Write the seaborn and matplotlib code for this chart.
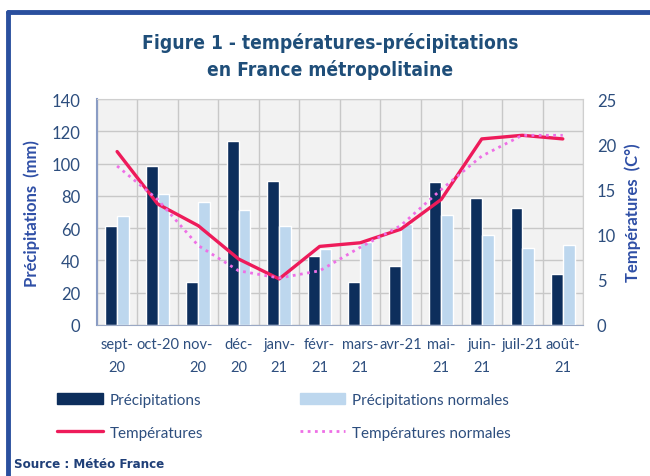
import numpy as np
import pandas as pd
import matplotlib
matplotlib.use("Agg")
import matplotlib.pyplot as plt
from matplotlib.patches import Patch
from matplotlib.lines import Line2D
import seaborn as sns

# données
mois = ["sept-\n20", "oct-20", "nov-\n20", "déc-\n20", "janv-\n21", "févr-\n21",
        "mars-\n21", "avr-21", "mai-\n21", "juin-\n21", "juil-21", "août-\n21"]
precip = [61.5, 98.5, 26.5, 114, 89.5, 42.5, 26.5, 36.5, 88.5, 79, 72.5, 31.5]
precip_norm = [67.5, 81, 76.5, 71.5, 61.5, 47, 51.5, 62.5, 68, 55.5, 47.5, 49.5]
temp = [19.2, 13.4, 11.0, 7.3, 5.1, 8.7, 9.1, 10.6, 13.9, 20.6, 21.0, 20.6]
temp_norm = [17.6, 13.9, 8.8, 6.0, 5.2, 6.0, 8.6, 11.0, 15.0, 18.7, 21.0, 21.0]

navy = "#0d2e5c"
light = "#bdd7ee"
red = "#ee1b5a"
pink = "#ee6fe6"
txt = "#2d4e7e"
lab = "#2f4fa6"

sns.set_style("white")
plt.rcParams["font.family"] = ["Lato", "DejaVu Sans"]

df = pd.DataFrame({
    "mois": mois * 2,
    "valeur": precip + precip_norm,
    "serie": ["Précipitations"] * 12 + ["Précipitations normales"] * 12,
})

fig = plt.figure(figsize=(6.5, 4.77), dpi=100)
ax = fig.add_axes([0.149, 0.3166, 0.748, 0.4734])
ax.set_facecolor("#f2f2f2")

sns.barplot(data=df, x="mois", y="valeur", hue="serie", order=mois,
            palette=[navy, light], width=0.58, gap=0, saturation=1,
            legend=False, ax=ax, zorder=2)

ax.set_ylim(0, 140)
ax.set_yticks(range(0, 141, 20))
ax.set_xlim(-0.5, 11.5)
ax.set_xticks(np.arange(-0.5, 12, 1), minor=True)
ax.grid(axis="y", which="major", color="#c8c8c8", lw=1, zorder=0)
ax.grid(axis="x", which="minor", color="#c8c8c8", lw=1, zorder=0)
ax.set_axisbelow(True)
ax.tick_params(axis="x", which="both", length=0, labelsize=10.5, colors=txt, pad=9)
plt.setp(ax.get_xticklabels(), linespacing=1.75)
ax.tick_params(axis="y", length=0, labelsize=12, colors=txt, pad=12)
ax.set_xlabel("")
ax.set_ylabel("Précipitations  (mm)", fontsize=12, fontweight="bold", color=lab, labelpad=8)
for s in ["top", "right"]:
    ax.spines[s].set_color("#cfcfcf")
ax.spines["bottom"].set_color("#9aa8c4")
ax.spines["left"].set_color("#8a9cc4")
ax.spines["left"].set_linewidth(1.5)

ax2 = ax.twinx()
x = np.arange(12)
sns.lineplot(x=x, y=temp, color=red, lw=2.4, ax=ax2)
sns.lineplot(x=x, y=temp_norm, color=pink, lw=2, linestyle=(0, (1, 1.6)), ax=ax2)
ax2.set_ylim(0, 25)
ax2.set_yticks(range(0, 26, 5))
ax2.tick_params(axis="y", length=0, labelsize=12, colors=txt, pad=10)
ax2.set_ylabel("Températures  (C°)", fontsize=12, fontweight="bold", color=lab, labelpad=6)
for s in ax2.spines.values():
    s.set_visible(False)

titre = dict(ha="center", va="center", fontsize=13.8, fontweight="bold",
             family=["DejaVu Sans"], fontstretch="condensed", color="#1f4e79")
fig.text(0.508, 0.91, "Figure 1 - températures-précipitations", **titre)
fig.text(0.508, 0.853, "en France métropolitaine", **titre)

handles = [Patch(color=navy), Line2D([], [], color=red, lw=2.4),
           Patch(color=light), Line2D([], [], color=pink, lw=2, linestyle=(0, (1, 1.6)))]
labels = ["Précipitations", "Températures", "Précipitations normales", "Températures normales"]
fig.legend(handles, labels, ncol=2, loc="upper left", bbox_to_anchor=(0.088, 0.175),
           frameon=False, fontsize=11, handlelength=3.0, handletextpad=0.45,
           columnspacing=6.3, labelspacing=1.25, labelcolor=txt,
           borderaxespad=0, borderpad=0)

fig.text(0.022, 0.018, "Source : Météo France", fontsize=9.5, fontweight="bold",
         family=["DejaVu Sans"], fontstretch="condensed", color="#1f3f78")

# cadre bleu haut et gauche
fig.add_artist(Line2D([0.0125, 1.0], [0.973, 0.973], color="#2a4f9e", lw=3.5))
fig.add_artist(Line2D([0.0125, 0.0125], [0.0, 0.973], color="#2a4f9e", lw=3.5))

fig.savefig("out.png", dpi=100)
